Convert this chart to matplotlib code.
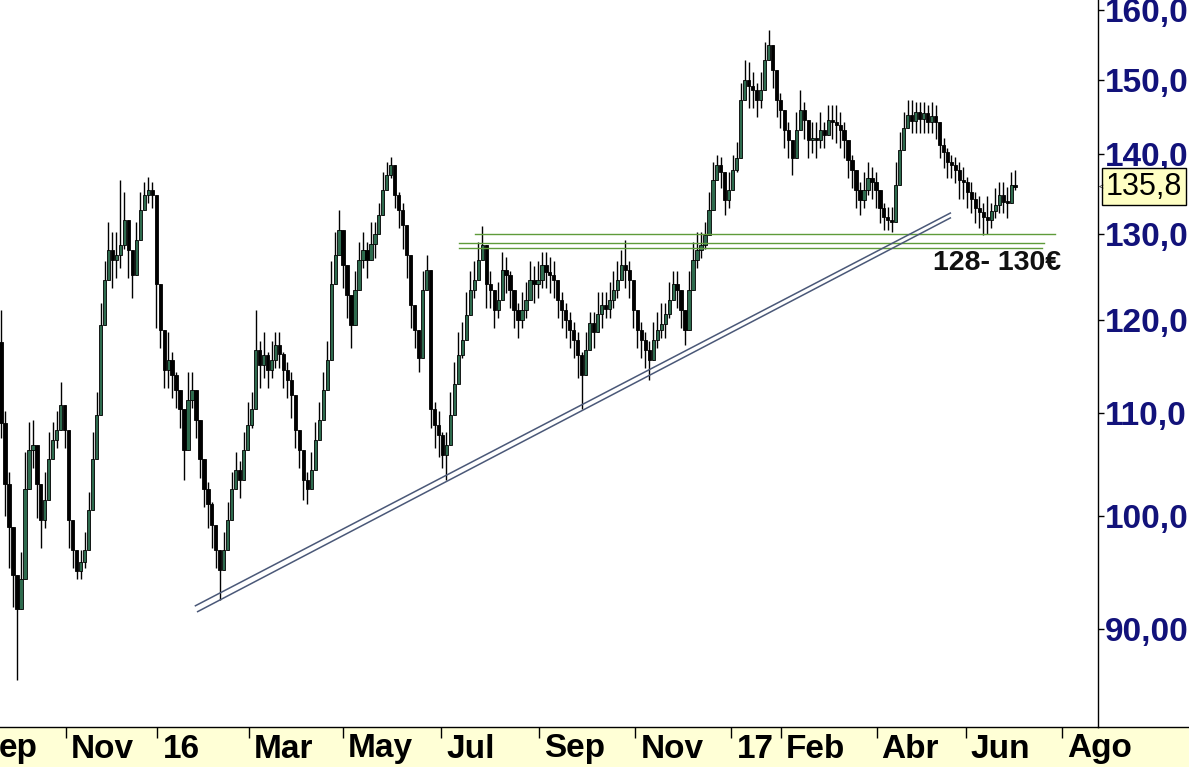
import numpy as np
import matplotlib
matplotlib.use('Agg')
from matplotlib import pyplot as plt
from matplotlib.ticker import NullLocator
from matplotlib.lines import Line2D
from matplotlib.patches import Rectangle

plt.rcParams['font.family'] = ['Liberation Sans', 'DejaVu Sans']

# precios (cada vela ~ 2 sesiones)
first_open = 117.5
close = [109.0, 103.0, 99.0, 94.7, 91.7, 94.3, 102.5, 106.3, 106.8, 103.0,
         99.6, 101.5, 105.4, 107.3, 108.3, 110.9, 108.3, 99.6, 96.9, 95.0,
         95.8, 96.9, 100.6, 105.4, 109.8, 119.4, 124.5, 128.0, 126.9, 127.4,
         128.6, 131.7, 128.0, 125.1, 129.2, 132.9, 134.8, 135.4, 134.8, 124.0,
         118.9, 114.5, 115.6, 114.0, 112.4, 110.4, 106.3, 111.4, 112.4, 109.3,
         105.4, 102.5, 101.1, 99.2, 96.9, 95.1, 96.9, 99.6, 102.5, 104.4,
         103.4, 106.3, 108.8, 110.4, 116.7, 115.1, 116.1, 114.5, 115.6, 117.2,
         116.2, 114.5, 113.5, 111.9, 108.3, 106.3, 103.4, 102.5, 104.4, 107.3,
         109.3, 112.4, 115.6, 124.0, 127.4, 130.4, 126.3, 122.8, 119.4, 123.4,
         126.9, 128.0, 126.9, 128.8, 129.9, 132.3, 135.4, 137.3, 138.6, 134.8,
         132.9, 131.0, 127.4, 121.6, 118.9, 115.8, 123.4, 125.7, 110.4, 108.8,
         107.8, 105.8, 106.8, 109.8, 113.0, 116.1, 117.8, 120.5, 123.4, 124.5,
         126.9, 128.6, 124.0, 123.4, 121.1, 122.2, 125.7, 125.1, 123.4, 121.1,
         120.0, 121.1, 122.2, 124.5, 124.0, 124.5, 126.2, 125.4, 125.1, 124.5,
         122.2, 121.1, 120.0, 118.9, 117.8, 116.1, 114.0, 116.7, 119.6, 118.6,
         120.6, 121.6, 121.2, 122.2, 123.4, 124.5, 126.3, 125.7, 124.5, 121.1,
         118.9, 117.8, 116.7, 115.6, 117.8, 118.9, 119.5, 120.6, 122.2, 124.0,
         123.4, 121.1, 118.9, 123.4, 126.9, 128.0, 128.6, 129.8, 132.9, 136.6,
         138.6, 137.7, 134.1, 135.4, 137.9, 139.5, 147.2, 149.9, 149.1, 148.5,
         147.2, 148.5, 152.7, 154.9, 151.3, 147.2, 145.8, 143.1, 141.8, 139.5,
         143.1, 145.8, 144.5, 141.8, 142.1, 141.8, 143.1, 142.5, 144.5, 144.2,
         143.8, 143.1, 141.8, 139.2, 137.9, 135.4, 134.1, 135.4, 136.9, 136.4,
         135.4, 133.1, 132.0, 131.7, 131.4, 136.0, 140.5, 143.4, 145.2, 144.3,
         145.6, 144.6, 145.4, 144.2, 145.0, 144.2, 141.1, 140.2, 139.0, 138.6,
         137.9, 136.6, 136.4, 135.1, 134.3, 133.1, 132.6, 132.0, 131.6, 132.8,
         133.5, 134.8, 133.9, 133.8, 136.0, 135.8]
high = [121.1, 110.2, 104.2, 97.6, 94.1, 96.7, 106.1, 109.1, 109.3, 106.1,
        102.3, 104.2, 108.1, 109.1, 110.2, 113.3, 110.2, 102.5, 98.5, 96.7,
        96.9, 98.5, 102.3, 108.1, 112.2, 121.9, 126.7, 131.4, 130.2, 130.2,
        136.6, 135.1, 131.4, 127.8, 131.4, 135.1, 136.4, 137.0, 136.4, 129.0,
        120.9, 116.5, 118.6, 116.5, 114.3, 112.2, 108.1, 114.3, 114.3, 111.2,
        107.1, 104.2, 103.2, 101.3, 98.5, 96.7, 98.5, 101.3, 104.2, 106.1,
        105.2, 108.1, 111.2, 112.2, 121.1, 117.6, 118.6, 116.5, 117.6, 118.6,
        118.6, 116.5, 115.4, 114.3, 110.2, 108.1, 105.2, 104.2, 106.1, 109.1,
        111.2, 114.3, 117.6, 126.7, 130.2, 132.9, 129.0, 125.5, 121.9, 125.5,
        129.0, 130.2, 129.0, 131.4, 131.4, 133.8, 137.7, 139.0, 139.6, 136.4,
        135.1, 133.8, 130.2, 124.3, 120.9, 117.6, 125.5, 127.4, 112.2, 111.2,
        110.2, 108.1, 108.1, 112.2, 115.4, 118.6, 119.8, 123.1, 125.5, 126.7,
        129.0, 130.9, 126.7, 125.5, 123.1, 124.3, 127.8, 127.2, 125.5, 123.1,
        121.9, 123.1, 124.3, 126.7, 126.1, 126.7, 127.8, 127.8, 127.2, 126.7,
        124.3, 123.1, 121.9, 120.9, 119.8, 118.6, 116.5, 118.6, 120.9, 120.9,
        123.1, 123.1, 123.1, 124.3, 125.5, 126.7, 128.0, 129.2, 126.7, 123.1,
        120.9, 119.8, 118.6, 117.6, 119.8, 120.9, 121.9, 121.9, 124.3, 125.5,
        125.5, 123.1, 120.9, 125.5, 129.0, 130.2, 130.2, 131.4, 135.1, 139.0,
        139.9, 139.6, 136.4, 137.7, 139.9, 141.5, 149.5, 152.7, 152.4, 151.0,
        149.5, 151.0, 155.3, 157.0, 153.9, 149.5, 148.2, 145.5, 144.2, 141.5,
        145.5, 148.5, 146.9, 144.2, 144.2, 144.2, 145.5, 144.2, 146.5, 146.5,
        146.5, 145.5, 144.2, 141.5, 139.9, 137.7, 136.4, 137.7, 139.0, 138.3,
        137.7, 135.1, 133.8, 133.3, 133.3, 139.0, 142.8, 145.5, 147.2, 147.2,
        146.9, 146.9, 146.9, 146.5, 146.9, 146.5, 142.8, 142.1, 140.8, 139.9,
        139.6, 139.0, 138.3, 137.0, 136.4, 135.1, 134.6, 133.8, 134.6, 133.8,
        135.6, 136.4, 136.4, 135.8, 137.7, 137.9]
low = [107.5, 100.0, 95.3, 91.9, 85.9, 91.9, 98.9, 103.6, 104.6, 99.8,
       97.1, 98.9, 102.7, 105.6, 106.5, 108.5, 106.5, 97.1, 95.3, 94.3,
       94.3, 95.3, 98.9, 102.7, 107.5, 116.9, 122.4, 124.7, 123.6, 124.7,
       125.9, 128.2, 124.7, 122.4, 127.1, 130.7, 133.1, 133.7, 133.1, 119.1,
       116.9, 112.6, 112.6, 111.6, 110.6, 108.5, 103.4, 108.5, 110.6, 107.5,
       103.6, 100.8, 98.9, 97.1, 95.3, 92.5, 95.3, 97.9, 100.8, 102.7,
       101.7, 104.6, 106.5, 108.5, 113.7, 112.6, 113.7, 112.6, 113.7, 114.7,
       114.7, 112.6, 111.6, 109.5, 106.5, 104.6, 101.5, 101.1, 102.7, 105.6,
       107.5, 110.6, 113.7, 121.3, 124.7, 128.2, 123.6, 120.2, 116.9, 121.3,
       124.7, 125.9, 124.7, 127.1, 127.1, 130.7, 133.1, 135.6, 136.9, 133.1,
       130.7, 128.2, 124.7, 119.1, 116.9, 114.3, 121.3, 123.6, 108.5, 106.5,
       105.6, 104.6, 103.4, 107.5, 110.6, 113.7, 115.8, 118.0, 121.3, 122.4,
       124.7, 127.1, 121.3, 121.3, 119.1, 120.2, 123.6, 123.0, 121.3, 119.1,
       118.0, 119.1, 120.2, 122.4, 121.9, 122.4, 123.6, 123.6, 123.0, 122.4,
       120.2, 119.1, 118.0, 116.9, 115.8, 113.7, 110.4, 114.7, 116.9, 116.9,
       119.1, 119.1, 120.2, 120.2, 121.3, 122.4, 124.7, 123.6, 122.4, 119.1,
       116.9, 115.8, 114.7, 113.5, 115.8, 116.9, 118.0, 118.0, 120.2, 122.4,
       121.3, 119.1, 117.2, 121.3, 124.7, 125.9, 127.1, 128.2, 130.7, 134.3,
       136.9, 135.6, 132.3, 133.1, 135.6, 137.7, 144.8, 147.4, 146.1, 146.1,
       144.8, 146.1, 150.1, 153.0, 148.8, 144.8, 143.4, 140.7, 139.5, 137.3,
       140.7, 143.4, 142.0, 139.5, 140.1, 139.5, 140.7, 140.7, 142.7, 142.0,
       141.4, 140.7, 139.5, 136.9, 135.6, 133.1, 132.3, 133.1, 134.8, 134.3,
       133.1, 131.3, 130.4, 130.4, 130.2, 133.1, 138.1, 141.4, 143.4, 142.7,
       142.7, 142.7, 142.7, 142.7, 142.7, 142.0, 139.5, 138.1, 136.9, 136.9,
       136.3, 134.3, 134.3, 133.1, 132.5, 131.3, 130.7, 129.8, 130.0, 130.7,
       131.9, 132.5, 132.5, 131.9, 134.3, 135.4]

start_day = '2015-09-22'
last_day = '2017-07-03'
holidays = ['2015-12-24', '2015-12-25', '2015-12-31', '2016-01-01',
            '2016-03-25', '2016-03-28', '2016-12-26', '2017-04-14',
            '2017-04-17', '2017-05-01']

tick_days = ['2015-09-01', '2015-11-02', '2016-01-04', '2016-03-01',
             '2016-05-02', '2016-07-01', '2016-09-01', '2016-11-01',
             '2017-01-02', '2017-02-01', '2017-04-03', '2017-06-01',
             '2017-08-01']
# la etiqueta de septiembre 2015 queda cortada en el borde: solo se ve "ep"
tick_labels = ['ep', 'Nov', '16', 'Mar', 'May', 'Jul', 'Sep', 'Nov',
               '17', 'Feb', 'Abr', 'Jun', 'Ago']

price_ticks = [90, 100, 110, 120, 130, 140, 150, 160]
price_labels = ['90,00', '100,0', '110,0', '120,0', '130,0',
                '140,0', '150,0', '160,0']

# zona 128-130 (nivel, desde, hasta)
zone_levels = [130.0, 128.9, 128.3]
zone_from = ['2016-07-22', '2016-07-13', '2016-07-13']
zone_to = ['2017-07-27', '2017-07-20', '2017-07-19']

# directriz alcista doble
trend_days = [['2016-01-27', '2017-05-23'], ['2016-01-28', '2017-05-23']]
trend_prices = [[92.0, 132.5], [91.5, 131.9]]

last_price = 135.8


def bday(d):
    return np.busday_count(start_day, d, holidays=holidays)


n = len(close)
pos = np.linspace(0, bday(last_day), n)
opens = [first_open] + close[:-1]

W, H = 1189, 767
fig = plt.figure(figsize=(W / 100, H / 100), dpi=100)
fig.patches.append(Rectangle((0, 0), 1, 40 / H, transform=fig.transFigure,
                             facecolor='#ffffd6', edgecolor='none',
                             zorder=-5))
ax = fig.add_axes([0, 40 / H, 1098 / W, 727 / H])
ax.set_facecolor('white')

# velas
green = '#2e6b4e'
for i in range(n):
    o, c = opens[i], close[i]
    top = max(high[i], o, c)
    bot = min(low[i], o, c)
    ax.vlines(pos[i], bot, top, color='black', lw=1, zorder=2)
    ax.bar(pos[i], max(abs(c - o), 0.15), bottom=min(o, c), width=1.45,
           color=green if c >= o else 'black', edgecolor='black',
           linewidth=0.6, zorder=3)

for lv, d0, d1 in zip(zone_levels, zone_from, zone_to):
    ax.plot([bday(d0), bday(d1)], [lv, lv], color='#5f9b3a', lw=1, zorder=4)

for ds, ps in zip(trend_days, trend_prices):
    ax.plot([bday(ds[0]), bday(ds[1])], ps, color='#4a5878', lw=1.1,
            zorder=4)

ax.text(bday('2017-06-21'), 126.5, '128- 130€', fontsize=20.5,
        fontweight='bold', color='#111111', ha='center', va='center')

ax.set_yscale('log')
ax.set_yticks(price_ticks)
ax.set_yticklabels(price_labels)
ax.set_ylim(82.2, 161.5)
ax.yaxis.set_minor_locator(NullLocator())
ax.yaxis.tick_right()
ax.tick_params(axis='y', direction='out', length=4, width=1, pad=1,
               labelsize=24, labelcolor='#12127a')
for t in ax.get_yticklabels():
    t.set_fontweight('bold')

ticks = [bday(d) for d in tick_days]
ax.set_xticks(ticks)
ax.set_xticklabels([])
left = -0.5
right = left + (ticks[-1] - left) * 1098 / 1062
ax.set_xlim(left, right)
ax.tick_params(axis='x', direction='out', length=8, width=1)
for tp, lab in zip(ticks, tick_labels):
    if tp < left:
        # etiqueta parcialmente fuera: se pega al borde izquierdo
        ax.annotate(lab, xy=(0, 0), xycoords='axes fraction',
                    xytext=(-1, -22), textcoords='offset pixels', ha='left',
                    va='center', fontsize=24, fontweight='bold',
                    color='black', annotation_clip=False)
        continue
    ax.annotate(lab, xy=(tp, 0), xycoords=('data', 'axes fraction'),
                xytext=(5, -22), textcoords='offset pixels', ha='left',
                va='center', fontsize=24, fontweight='bold', color='black',
                annotation_clip=False)

for s in ['left', 'top']:
    ax.spines[s].set_visible(False)
ax.spines['bottom'].set_linewidth(1)
ax.spines['right'].set_linewidth(1)
fig.add_artist(Line2D([1098 / W, 1], [40 / H, 40 / H], color='black',
                      lw=1, transform=fig.transFigure))

# ultimo precio
ax.annotate(f'{last_price:.1f}'.replace('.', ','), xy=(1, last_price),
            xycoords=('axes fraction', 'data'), xytext=(8, 0),
            textcoords='offset pixels', ha='left', va='center', fontsize=22,
            bbox=dict(boxstyle='square,pad=0.12', fc='#ffffc4', ec='black',
                      lw=1), annotation_clip=False)
ax.annotate('<', xy=(1, last_price), xycoords=('axes fraction', 'data'),
            xytext=(1, 0), textcoords='offset pixels', ha='left',
            va='center', fontsize=6, annotation_clip=False)

fig.savefig('out.png', dpi=100)
